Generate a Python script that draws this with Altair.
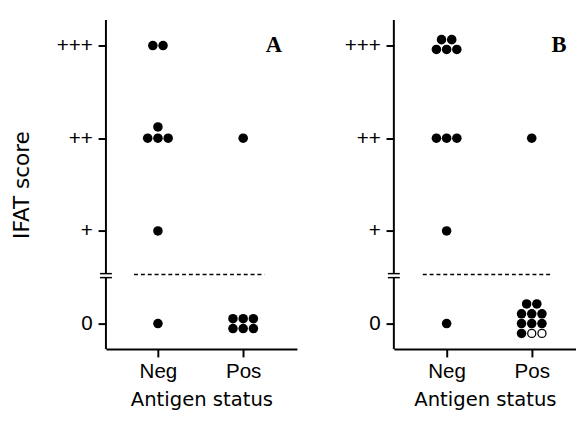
import altair as alt
import pandas as pd

# ---------------- data ----------------
score_labels = ["0", "+", "++", "+++"]     # IFAT score categories (y = 0..3)
group_labels = ["Neg", "Pos"]              # antigen status (x = 1, 2)

# Panel A: one entry per dot (group, score, column / row position inside the dot cluster)
a_group = [1, 1, 1, 1, 1, 1, 1, 1, 2, 2, 2, 2, 2, 2, 2]
a_score = [3, 3, 2, 2, 2, 2, 1, 0, 2, 0, 0, 0, 0, 0, 0]
a_col = [-0.5, 0.5, -1, 0, 1, 0, 0, 0, 0, -1, 0, 1, -1, 0, 1]
a_row = [0, 0, 0, 0, 0, 1.15, 0, 0, 0, 0.5, 0.5, 0.5, -0.5, -0.5, -0.5]
a_filled = [1] * 15

# Panel B
b_group = [1, 1, 1, 1, 1, 1, 1, 1, 1, 1, 2,
           2, 2, 2, 2, 2, 2, 2, 2, 2, 2, 2]
b_score = [3, 3, 3, 3, 3, 2, 2, 2, 1, 0, 2,
           0, 0, 0, 0, 0, 0, 0, 0, 0, 0, 0]
b_col = [-0.5, 0.5, -1, 0, 1, -1, 0, 1, 0, 0, 0,
         -0.5, 0.5, -1, 0, 1, -1, 0, 1, -1, 0, 1]
b_row = [0.6, 0.6, -0.4, -0.4, -0.4, 0, 0, 0, 0, 0, 0,
         2, 2, 1, 1, 1, 0, 0, 0, -1, -1, -1]
b_filled = [1] * 20 + [0, 0]

cutoff_value = 0.53            # dashed line between 0 and +
break_low, break_high = 0.496, 0.539
cutoff_x = [0.72, 2.25]

COL_STEP = 0.12
ROW_STEP = 0.106
Y_DOMAIN = [-0.275, 3.275]
PLOT_H = 336


def dots(groups, scores, cols, rows, filled):
    return pd.DataFrame({
        "x": [g + c * COL_STEP for g, c in zip(groups, cols)],
        "y": [s + r * ROW_STEP for s, r in zip(scores, rows)],
        "filled": filled,
    })


x_label_expr = "[" + ",".join(f"'{g}'" for g in group_labels) + "][datum.value - 1]"
y_label_expr = "[" + ",".join(f"'{s}'" for s in score_labels) + "][datum.value]"


def panel(df, x_domain, width, letter, letter_x, y_title):
    xs = alt.Scale(domain=x_domain, nice=False, zero=False)
    ys = alt.Scale(domain=Y_DOMAIN, nice=False, zero=False)
    x_axis = alt.Axis(values=[1, 2], labelExpr=x_label_expr, title="Antigen status",
                      labelPadding=4, titlePadding=9, tickSize=8)
    y_axis = alt.Axis(values=[0, 1, 2, 3], labelExpr=y_label_expr, title=y_title,
                      domain=False, labelPadding=6, titlePadding=23, tickSize=8,
                      titleFontSize=22)

    def X(f="x"):
        return alt.X(f"{f}:Q", scale=xs, axis=x_axis)

    def Y(f="y"):
        return alt.Y(f"{f}:Q", scale=ys, axis=y_axis)

    xmin = x_domain[0]
    axis_df = pd.DataFrame({"x": [xmin, xmin], "y": [Y_DOMAIN[0], break_high],
                            "y2": [break_low, Y_DOMAIN[1]]})
    brk_df = pd.DataFrame({"x": [xmin - 0.07] * 2, "x2": [xmin + 0.07] * 2,
                           "y": [break_low, break_high]})
    cut_df = pd.DataFrame({"x": [cutoff_x[0]], "x2": [cutoff_x[1]], "y": [cutoff_value]})
    letter_df = pd.DataFrame({"x": [letter_x], "y": [3.0], "t": [letter]})

    layers = [
        alt.Chart(cut_df).mark_rule(color="black", strokeWidth=1.5, strokeDash=[4, 3])
        .encode(x=X(), x2="x2:Q", y=Y()),
        alt.Chart(axis_df).mark_rule(color="black", strokeWidth=2)
        .encode(x=X(), y=Y(), y2="y2:Q"),
        alt.Chart(brk_df).mark_rule(color="black", strokeWidth=1.5)
        .encode(x=X(), x2="x2:Q", y=Y()),
        alt.Chart(df[df.filled == 1]).mark_circle(color="black", opacity=1, size=95)
        .encode(x=X(), y=Y()),
    ]
    open_df = df[df.filled == 0]
    if len(open_df):
        layers.append(
            alt.Chart(open_df).mark_point(shape="circle", filled=True, fill="white",
                                          stroke="black", strokeWidth=1.3, opacity=1, size=68)
            .encode(x=X(), y=Y()))
    layers.append(
        alt.Chart(letter_df).mark_text(font="Liberation Serif", fontWeight="bold", fontSize=23,
                                       align="center", baseline="middle", color="black")
        .encode(x=X(), y=Y(), text="t:N"))
    return alt.layer(*layers).properties(width=width, height=PLOT_H)


dfA = dots(a_group, a_score, a_col, a_row, a_filled)
dfB = dots(b_group, b_score, b_col, b_row, b_filled)

pA = panel(dfA, [0.39, 2.63], 195, "A", 2.36, "IFAT score")
pB = panel(dfB, [0.38, 2.52], 186, "B", 2.32, None)

chart = (
    alt.hconcat(pA, pB, spacing=48)
    .properties(padding={"left": 3, "top": 7, "right": 0, "bottom": 0})
    .configure_view(stroke=None)
    .configure_axis(labelFont="Liberation Sans", labelFontSize=21, labelColor="black",
                    titleFont="DejaVu Sans", titleFontSize=20, titleFontWeight="normal",
                    titleColor="black", tickColor="black", tickWidth=2, domainColor="black",
                    domainWidth=2, grid=False, labelOverlap=False)
)

chart.save("out.html", embed_options={"renderer": "svg", "actions": False})
